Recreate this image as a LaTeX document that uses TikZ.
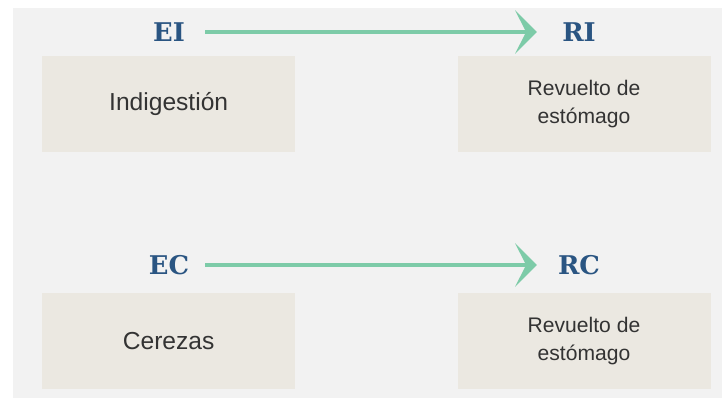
\documentclass[tikz,border=0pt]{standalone}
\usepackage{fontspec}
\usepackage{xcolor}
\setmainfont{Liberation Sans}
\newfontfamily\slabfont{DejaVu Serif}
\usetikzlibrary{shapes,arrows.meta,positioning,calc}

\definecolor{bggray}{HTML}{F2F2F2}
\definecolor{boxfill}{HTML}{EBE8E1}
\definecolor{labelblue}{HTML}{2A5582}
\definecolor{arrowgreen}{HTML}{7DCBA8}

\tikzset{
    cell/.style={rectangle, fill=boxfill, minimum width=7.59cm, minimum height=2.9cm, align=center, text=black!80},
    bigtext/.style={font=\fontsize{21}{25}\selectfont},
    smalltext/.style={font=\fontsize{18}{24}\selectfont},
    tag/.style={text=labelblue, minimum width=1.4cm, inner sep=0pt, font=\slabfont\bfseries\fontsize{22}{26}\selectfont},
    link/.style={arrowgreen, line width=3.5pt, -{Stealth[length=0.65cm, width=1.3cm, inset=0.33cm]}}
}

\begin{document}
\begin{tikzpicture}
    \useasboundingbox (0,0) rectangle (21.66,12.03);
    \fill[bggray] (0.39,0.09) rectangle (21.66,11.79);

    % top row
    \node[cell, bigtext] (indig) at (5.06,8.91) {Indigesti\'on};
    \node[cell, smalltext] (revI) at (17.52,8.91) {Revuelto de\\est\'omago};
    \node[tag] (EI) at (5.07,11.07) {EI};
    \node[tag] (RI) at (17.37,11.07) {RI};

    % bottom row
    \node[cell, bigtext] (cerez) at (5.06,1.8) {Cerezas};
    \node[cell, smalltext] (revC) at (17.52,1.8) {Revuelto de\\est\'omago};
    \node[tag] (EC) at (5.07,4.08) {EC};
    \node[tag] (RC) at (17.37,4.08) {RC};

    \draw[link, shorten <=0.38cm, shorten >=0.56cm] (EI) -- (RI);
    \draw[link, shorten <=0.38cm, shorten >=0.56cm] (EC) -- (RC);
\end{tikzpicture}
\end{document}
